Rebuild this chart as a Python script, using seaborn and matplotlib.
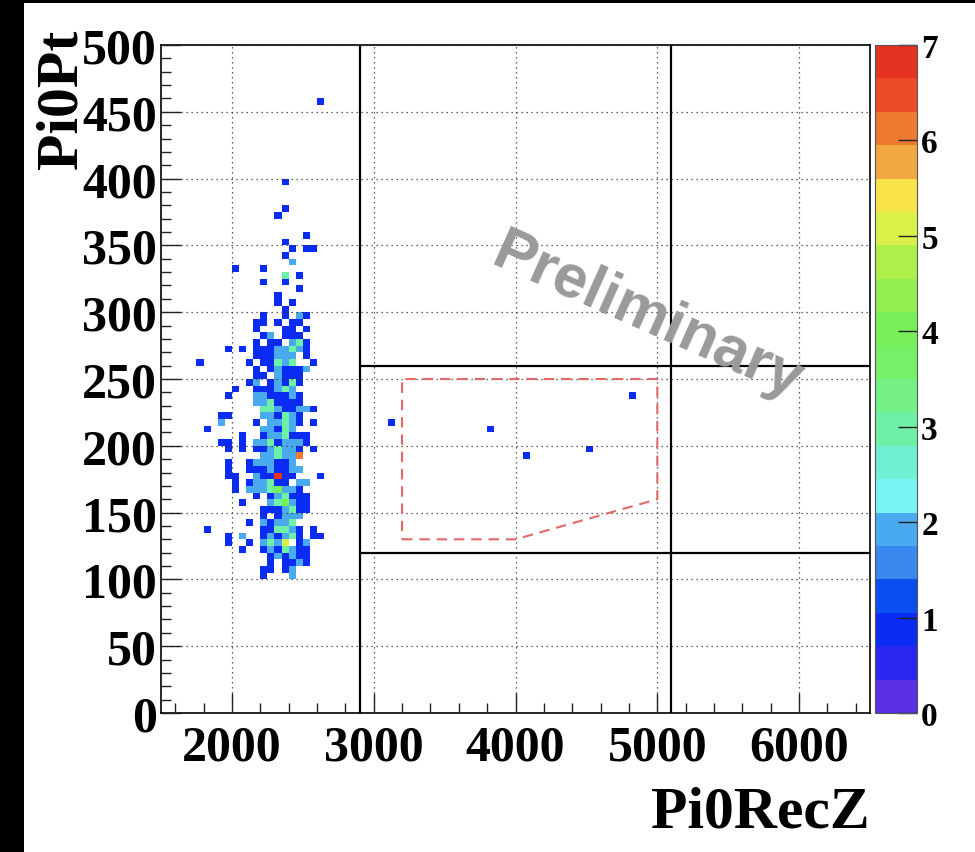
import numpy as np
import pandas as pd
import matplotlib
matplotlib.use("Agg")
import matplotlib.pyplot as plt
import seaborn as sns
from matplotlib.colors import ListedColormap
from matplotlib.ticker import MultipleLocator
from matplotlib.patches import Rectangle

# ---------------- data ----------------
# Pi0RecZ bin centres of the columns used in the cell map below (bin width 50)
recz_columns = [1775, 1825, 1875, 1925, 1975, 2025, 2075, 2125, 2175, 2225,
                2275, 2325, 2375, 2425, 2475, 2525, 2575, 2625, 2675]

# Pi0Pt bin centre -> entries per Pi0RecZ column ('.' = empty)
cell_rows = {
    457.5: ".................1.",
    397.5: "............1......",
    377.5: "............1......",
    372.5: "...........1.......",
    357.5: "...............1...",
    352.5: "............1......",
    347.5: ".............1.11..",
    342.5: "............1......",
    337.5: ".............2.....",
    332.5: ".....1...1.........",
    327.5: "............3.1....",
    322.5: ".........1..1......",
    317.5: "..............1....",
    312.5: "...........1.......",
    307.5: "...........1.1.....",
    302.5: "............1......",
    297.5: ".........1..1.21...",
    292.5: "........11.1.11....",
    287.5: "........1...11.1...",
    282.5: ".........12.111....",
    277.5: "........1.11.231...",
    272.5: "....1.1.11122321...",
    267.5: "........111222.1...",
    262.5: "1......1.11323..1..",
    257.5: "........1.121112...",
    252.5: "........11.2111....",
    247.5: ".......12.12131....",
    242.5: ".....1..111232.....",
    237.5: "....1...2211121....",
    232.5: "........2231111....",
    227.5: ".........33211221..",
    222.5: "...11....221321....",
    217.5: "...2....1.22321.1..",
    212.5: ".1.......22132.....",
    207.5: "......1..1223111...",
    202.5: "...11.1.22312221...",
    197.5: "....1.1.1123221.1..",
    192.5: ".........223226....",
    187.5: "....1..1222112.....",
    182.5: "....1..11121122....",
    177.5: "....11..211711...1.",
    172.5: ".....1.122311.22...",
    167.5: ".....1.22234221....",
    162.5: "........1.123111...",
    157.5: "......1...234211...",
    152.5: ".........1112311...",
    147.5: ".........1.1222....",
    142.5: ".......1.21223.....",
    137.5: ".1.......113321.1..",
    132.5: "....1.2..121231.11.",
    127.5: "....1..1.2325.12...",
    122.5: "......1..1213211...",
    117.5: "..........121211...",
    112.5: "..........1.1121...",
    107.5: ".........11.12.....",
    102.5: ".........1...2.....",
}

# isolated entries at large Pi0RecZ
isolated_recz = [3125, 3825, 4075, 4525, 4825]
isolated_pt = [217.5, 212.5, 192.5, 197.5, 237.5]
isolated_counts = [1, 1, 1, 1, 1]

# selection cuts
recz_cuts = [2900, 5100]
pt_cuts = [120, 260]
region_recz = [3200, 4000, 5000, 5000, 3200, 3200]
region_pt = [130, 130, 160, 250, 250, 130]

colorbar_ticks = [0, 1, 2, 3, 4, 5, 6, 7]

# ROOT-like rainbow palette, 20 contour levels from 0 to 7
palette_colors = [
    "#5a2fe6", "#2b26ee", "#0a2cf2", "#0a4ef0", "#3888ee",
    "#4aaaf0", "#78f4f4", "#70f0d2", "#6ef0a6", "#74f086",
    "#76f068", "#78ee58", "#90ee50", "#aef04a", "#dcf04a",
    "#f8e448", "#f0a840", "#ee7a30", "#ec4a28", "#e63222",
]

# ---------------- build table ----------------
recz, pt, counts = [], [], []
for pt_c, row in cell_rows.items():
    for z_c, ch in zip(recz_columns, row):
        if ch != ".":
            recz.append(z_c)
            pt.append(pt_c)
            counts.append(int(ch))
recz += isolated_recz
pt += isolated_pt
counts += isolated_counts
df = pd.DataFrame({"Pi0RecZ": recz, "Pi0Pt": pt, "entries": counts})

# ---------------- style ----------------
plt.rcParams["font.family"] = ["Liberation Serif", "DejaVu Serif"]
plt.rcParams["font.weight"] = "bold"

W, H = 975, 853
fig = plt.figure(figsize=(W / 100, H / 100), dpi=100)
fig.patch.set_facecolor("white")

ax_l, ax_r, ax_t, ax_b = 161, 870, 46, 714
ax = fig.add_axes([ax_l / W, 1 - ax_b / H, (ax_r - ax_l) / W, (ax_b - ax_t) / H])
cax = fig.add_axes([875 / W, 1 - ax_b / H, 42 / W, (ax_b - ax_t) / H])

cmap = ListedColormap(palette_colors)

sns.histplot(
    data=df, x="Pi0RecZ", y="Pi0Pt", weights="entries",
    binwidth=(50, 5), binrange=((1500, 6500), (0, 500)),
    cmap=cmap, vmin=0, vmax=7,
    cbar=True, cbar_ax=cax, ax=ax,
)

ax.set_xlim(1500, 6500)
ax.set_ylim(0, 500)
ax.set_xlabel("")
ax.set_ylabel("")

ax.xaxis.set_major_locator(MultipleLocator(1000))
ax.xaxis.set_minor_locator(MultipleLocator(200))
ax.yaxis.set_major_locator(MultipleLocator(50))
ax.yaxis.set_minor_locator(MultipleLocator(10))

ax.grid(True, which="major", linestyle=(0, (1, 3)), color="#333333", linewidth=0.9)
ax.set_axisbelow(False)

ax.tick_params(axis="both", which="major", direction="in", length=14.5, width=1,
               top=False, right=False, labelsize=36, pad=3, color="#222222")
ax.tick_params(axis="x", which="major", pad=8)
ax.tick_params(axis="both", which="minor", direction="in", length=7, width=1,
               top=False, right=False, color="#222222")
for lab in ax.get_xticklabels() + ax.get_yticklabels():
    lab.set_fontweight("bold")

for sp in ax.spines.values():
    sp.set_linewidth(1.2)
    sp.set_color("black")

# cut lines
for zc in recz_cuts:
    ax.axvline(zc, color="black", linewidth=1.6, zorder=5)
ax.hlines(pt_cuts, recz_cuts[0], 6500, color="black", linewidth=1.6, zorder=5)

# signal region
ax.plot(region_recz, region_pt, color="#e36868", linewidth=1.5,
        linestyle=(0, (5, 3.3)), zorder=6)

# colour bar
cax.set_ylim(0, 7)
cax.yaxis.set_ticks(colorbar_ticks)
cax.yaxis.set_ticks_position("right")
cax.yaxis.set_label_position("right")
cax.minorticks_off()
cax.tick_params(axis="y", direction="in", length=14, width=1, labelsize=24,
                pad=3, color="#222222")
for lab in cax.get_yticklabels():
    lab.set_fontweight("bold")
for sp in cax.spines.values():
    sp.set_linewidth(0.8)
    sp.set_color("#555555")

# axis titles
fig.text(63 / W, 1 - 30 / H, "Pi0Pt", rotation=90, ha="center", va="top",
         fontsize=43, fontweight="bold")
fig.text(870 / W, 1 - 828 / H, "Pi0RecZ", ha="right", va="baseline",
         fontsize=43, fontweight="bold")

# watermark
fig.text(648 / W, 1 - 318 / H, "Preliminary", rotation=-24, color="#9a9a9a",
         fontsize=44, fontweight="bold", family=["Liberation Sans", "DejaVu Sans"],
         ha="center", va="center", rotation_mode="anchor", zorder=8)

# dark border of the scanned image
fig.add_artist(Rectangle((0, 0), 24 / W, 1, transform=fig.transFigure,
                         facecolor="black", edgecolor="none", zorder=20))
fig.add_artist(Rectangle((0, 1 - 4 / H), 1, 4 / H, transform=fig.transFigure,
                         facecolor="black", edgecolor="none", zorder=20))

fig.savefig("out.png", dpi=100)
